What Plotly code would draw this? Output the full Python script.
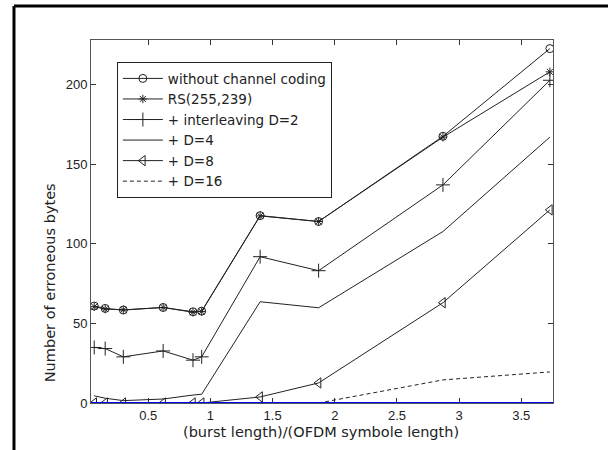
import plotly.graph_objects as go

# burst length / OFDM symbol length
x = [0.066, 0.154, 0.30, 0.62, 0.86, 0.93, 1.40, 1.87, 2.87, 3.73]

no_coding = [60.9, 59.4, 58.4, 60.0, 57.3, 57.7, 117.7, 114.0, 167.5, 222.6]
rs_255_239 = [60.5, 59.0, 58.5, 60.0, 57.0, 57.5, 117.5, 114.0, 167.0, 208.0]
d2 = [34.9, 34.2, 29.0, 32.7, 26.9, 29.0, 91.9, 83.1, 137.0, 202.7]
d4 = [4.5, 3.0, 1.5, 2.5, 5.0, 5.5, 63.6, 59.8, 107.7, 167.0]
d8 = [0, 0, 0, 0, 0, 0, 3.8, 12.6, 63.0, 121.3]
d16 = [0, 0, 0, 0, 0, 0, 0, 0, 14.5, 19.5]

x_ticks = [0.5, 1, 1.5, 2, 2.5, 3, 3.5]
x_tick_text = ["0.5", "1", "1.5", "2", "2.5", "3", "3.5"]
y_ticks = [0, 50, 100, 150, 200]
y_tick_text = ["0", "50", "100", "150", "200"]

TICK_FONT = "Liberation Sans, Arial, sans-serif"
LABEL_FONT = "DejaVu Sans, sans-serif"
LINE = "#222222"
TEXT = "#222222"

fig = go.Figure()

series = [
    ("without channel coding", no_coding, "lines+markers", "circle-open", 8, "solid"),
    ("RS(255,239)", rs_255_239, "lines+markers", "asterisk-open", 7, "solid"),
    ("+ interleaving D=2", d2, "lines+markers", "cross-thin-open", 10, "solid"),
    ("+ D=4", d4, "lines", None, 0, "solid"),
    ("+ D=8", d8, "lines+markers", "triangle-left-open", 9, "solid"),
    ("+ D=16", d16, "lines", None, 0, "4px,3px"),
]

for name, ys, mode, sym, size, dash in series:
    kw = dict(x=x, y=ys, name=name, mode=mode,
              line=dict(color=LINE, width=1, dash=dash))
    if sym:
        kw["marker"] = dict(symbol=sym, size=size, color=LINE,
                            line=dict(color=LINE, width=1))
    fig.add_trace(go.Scatter(**kw))

axis_common = dict(
    showline=True, linecolor="#555555", linewidth=1, mirror="ticks",
    ticks="inside", ticklen=5, tickcolor="#333333", showgrid=False,
    zeroline=False, tickfont=dict(family=TICK_FONT, size=13, color=TEXT),
)

fig.update_layout(
    width=608, height=450,
    margin=dict(l=91, r=55, t=40, b=47),
    paper_bgcolor="white", plot_bgcolor="white",
    showlegend=True,
    legend=dict(
        x=0.056, y=0.939, xanchor="left", yanchor="top",
        bgcolor="white", bordercolor="#222222", borderwidth=1,
        font=dict(family=LABEL_FONT, size=13.5, color=TEXT),
        itemwidth=40, tracegroupgap=0,
    ),
    xaxis=dict(range=[0.04, 3.755], tickvals=x_ticks, ticktext=x_tick_text, **axis_common),
    yaxis=dict(range=[0, 228], tickvals=y_ticks, ticktext=y_tick_text, **axis_common),
    font=dict(family=TICK_FONT),
)

# blue zero baseline across the plot
fig.add_shape(type="line", xref="x domain", x0=0, x1=1, yref="y", y0=0, y1=0,
              line=dict(color="#0000EE", width=2), layer="above")

# figure frame (top and left border)
fig.add_shape(type="line", xref="paper", yref="paper", x0=-0.1667, x1=1.2, y0=1.094, y1=1.094,
              line=dict(color="black", width=3), layer="above")
fig.add_shape(type="line", xref="paper", yref="paper", x0=-0.1667, x1=-0.1667, y0=1.094, y1=-0.2,
              line=dict(color="black", width=3), layer="above")

fig.add_annotation(text="(burst length)/(OFDM symbole length)", xref="paper", yref="paper",
                   x=0.497, y=-0.08, xanchor="center", yanchor="middle", showarrow=False,
                   font=dict(family=LABEL_FONT, size=14.5, color=TEXT))
fig.add_annotation(text="Number of erroneous bytes", xref="paper", yref="paper",
                   x=-0.0887, y=0.33, xanchor="center", yanchor="middle", showarrow=False,
                   textangle=-90, font=dict(family=LABEL_FONT, size=14.5, color=TEXT))

fig.write_html("out.html", config={"displayModeBar": False},
               post_script="document.body.style.margin='0';")
